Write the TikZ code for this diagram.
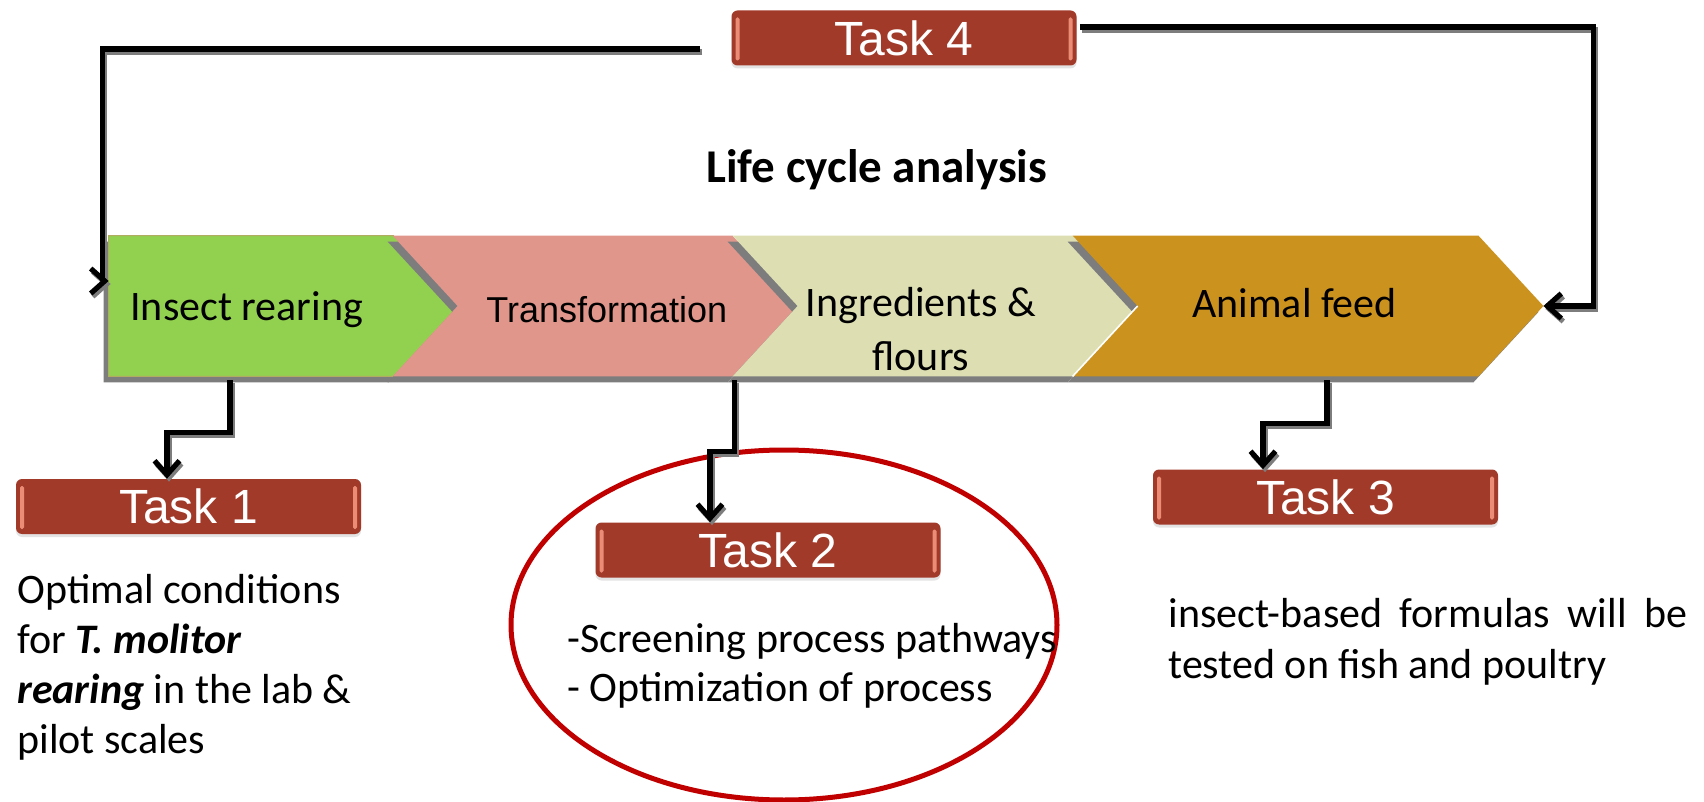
\documentclass[tikz,border=0pt]{standalone}
\usepackage{fontspec}
\setmainfont{Carlito}
\newfontfamily\arialfont{Liberation Sans}
\usetikzlibrary{arrows.meta,calc,shapes.geometric,shadows}

\definecolor{chevgreen}{RGB}{146,208,80}
\definecolor{chevgreenedge}{RGB}{176,172,96}
\definecolor{chevpink}{RGB}{225,150,140}
\definecolor{chevbeige}{RGB}{221,223,179}
\definecolor{chevorange}{RGB}{204,146,30}
\definecolor{taskred}{RGB}{162,58,42}
\definecolor{taskglow}{RGB}{234,140,118}
\definecolor{ringred}{RGB}{192,0,0}
\definecolor{shadowgray}{RGB}{125,125,125}

% first stage: flat left side, pointed right side
\newcommand{\headpath}[1]{(#1.north west) -- ([xshift=-32.5pt]#1.north east) -- (#1.east) -- ([xshift=-32.5pt]#1.south east) -- (#1.south west) -- cycle}
% later stages: notched left side, pointed right side
\newcommand{\chevpath}[1]{(#1.north west) -- ([xshift=-32.5pt]#1.north east) -- (#1.east) -- ([xshift=-32.5pt]#1.south east) -- (#1.south west) -- ([xshift=32.5pt]#1.west) -- cycle}

\begin{document}
\begin{tikzpicture}[x=0.5pt,y=-0.5pt,
  chevbox/.style={rectangle, inner sep=0pt, minimum height=70pt},
  chevshadow/.style={fill=shadowgray, transform canvas={shift={(-2.5pt,-3pt)}}},
  stagetext/.style={anchor=base west, inner sep=0pt, font=\fontsize{21pt}{27pt}\selectfont},
  taskbox/.style={rectangle, rounded corners=3pt, fill=taskred, inner sep=0pt,
    minimum width=172.5pt, minimum height=27.5pt, text=white,
    font=\arialfont\fontsize{24pt}{28pt}\selectfont,
    drop shadow={opacity=0.22, shadow xshift=0pt, shadow yshift=-1.5pt},
    path picture={
      \fill[taskglow, rounded corners=0.8pt]
        ([xshift=2pt,yshift=-3.5pt]path picture bounding box.north west) rectangle
        ([xshift=4pt,yshift=2.5pt]path picture bounding box.south west);
      \fill[taskglow, rounded corners=0.8pt]
        ([xshift=-4pt,yshift=-3.5pt]path picture bounding box.north east) rectangle
        ([xshift=-2pt,yshift=2.5pt]path picture bounding box.south east);
    }},
  connline/.style={line width=2.6pt,
    preaction={draw=shadowgray, line width=2.6pt, transform canvas={shift={(1pt,-1.5pt)}}}},
  conn/.style={connline, -{Straight Barb[length=7pt,width=12.5pt]}},
  bodytext/.style={anchor=base west, align=left, inner sep=0pt, font=\fontsize{21pt}{25pt}\selectfont},
]
\fill[white] (0,0) rectangle (1704,802);
\useasboundingbox (0,0) rectangle (1704,802);

% stage boxes (frames for the chevrons)
\node[chevbox, minimum width=174.5pt] (c1) at (283.5,306) {};
\node[chevbox, minimum width=202pt]   (c2) at (595,306) {};
\node[chevbox, minimum width=202pt]   (c3) at (935,306) {};
\node[chevbox, minimum width=235pt]   (c4) at (1308,306) {};

% chevrons, each shadow laid before its own shape
\fill[chevshadow] \headpath{c1};
\filldraw[fill=chevgreen, draw=chevgreenedge, line width=0.5pt] \headpath{c1};
\fill[chevshadow] \chevpath{c2};
\fill[chevpink] \chevpath{c2};
\fill[chevshadow] \chevpath{c3};
\fill[chevbeige] \chevpath{c3};
\fill[chevshadow] \chevpath{c4};
\fill[chevorange] \chevpath{c4};
\draw[white, line width=0.8pt] ([xshift=32.5pt]c4.west) -- (c4.south west);

% stage labels (base anchor = baseline of the last line)
\node[stagetext] (s1) at (130,321) {Insect rearing};
\node[stagetext, font=\arialfont\fontsize{18pt}{22pt}\selectfont] (s2) at (486,323) {Transformation};
\node[stagetext, anchor=base, align=center] (s3) at (921,371) {Ingredients \&\\flours};
\node[stagetext] (s4) at (1192,318) {Animal feed};

\node[anchor=base west, inner sep=0pt, font=\bfseries\fontsize{23.5pt}{28pt}\selectfont] (lca) at (706,183) {Life cycle analysis};

% highlight ring around task 2
\node[ellipse, draw=ringred, line width=2.5pt, inner sep=0pt,
      minimum width=273pt, minimum height=175pt] (ring) at (784,625) {};

% task badges
\node[taskbox] (t4) at (904,38) {Task 4};
\node[taskbox] (t1) at (188.5,506.5) {Task 1};
\node[taskbox] (t2) at (768,550) {Task 2};
\node[taskbox] (t3) at (1325.5,497) {Task 3};

% connectors
\draw[conn] ($(c1.south)+(-53.5,4)$) -- ++(0,52) -| ($(t1.north)+(-21.5,0)$);
\draw[conn] ($(c3.south west)+(2,4)$) -- ++(0,71) -| ($(t2.north)+(-58,0)$);
\draw[conn] ($(c4.south)+(19,4)$) -- ++(0,43) -| ($(t3.north)+(-62.5,0)$);
\draw[conn] ($(t4.west)+(-31,11)$) -| ($(c1.west)+(-6,-25)$) -- ($(c1.west)+(0,-25)$);
\draw[conn] ($(t4.east)+(3,-11)$) -| ($(c4.east)+(50,0)$) -- (c4.east);

% task descriptions (base anchor = baseline of the last line)
\node[bodytext] (d1) at (17,753) {Optimal conditions\\for \textbf{\textit{T. molitor}}\\\textbf{\textit{rearing}} in the lab \&\\pilot scales};
\node[bodytext, font=\fontsize{21pt}{24.5pt}\selectfont] (d2) at (567,701) {-Screening process pathways\\- Optimization of process};
\node[bodytext, font=\fontsize{21pt}{25.5pt}\selectfont] (d3) at (1168,678) {\makebox[259.5pt][s]{insect-based formulas will be}\\tested on fish and poultry};
\end{tikzpicture}
\end{document}
